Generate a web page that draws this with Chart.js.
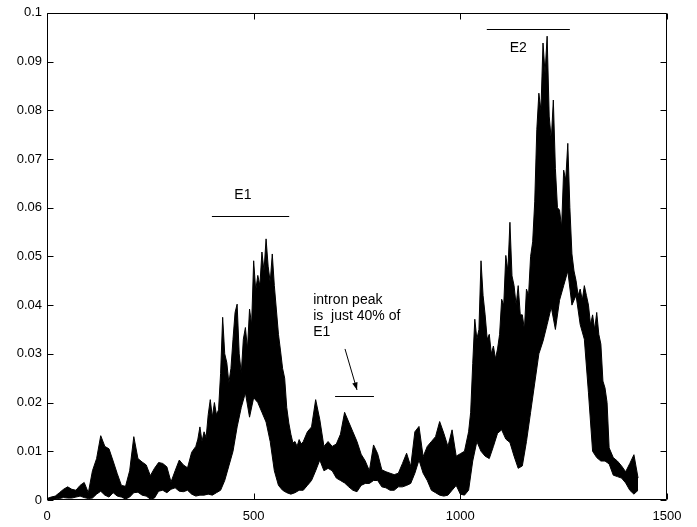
<!DOCTYPE html>
<html>
<head>
<meta charset="utf-8">
<script src="https://cdn.jsdelivr.net/npm/chart.js@4/dist/chart.umd.min.js"></script>
<style>
html,body{margin:0;padding:0;background:#fff;}
#wrap{width:697px;height:527px;}
</style>
</head>
<body>
<div id="wrap"><canvas id="c" width="697" height="527"></canvas></div>
<script>
// ---- data ----
// upper envelope of the dense signal
const upperPositions = [0,10,20,30,40,50,60,70,80,90,100,110,120,130,140,150,160,170,180,190,200,210,220,230,240,250,260,270,280,290,300,310,320,330,340,350,
360,365,370,375,380,385,390,395,400,405,410,415,420,425,430,435,440,445,450,455,460,465,470,475,480,485,490,495,500,505,510,515,520,525,530,535,540,545,550,555,560,565,570,575,580,585,590,595,600,605,610,615,620,
630,640,650,660,670,680,690,700,710,720,730,740,750,760,770,780,790,800,810,820,830,840,850,860,870,880,890,900,910,920,930,940,950,960,970,980,990,1000,1010,
1020,1025,1030,1035,1040,1045,1050,1055,1060,1065,1070,1075,1080,1085,1090,1095,1100,1105,1110,1115,1120,1125,1130,1135,1140,1145,1150,1155,1160,1165,1170,1175,1180,1185,1190,1195,1200,1205,1210,1215,1220,1225,1230,1235,1240,1245,1250,1255,1260,1265,1270,1275,1280,1285,1290,1295,1300,1305,1310,1315,1320,1325,1330,1335,1340,1345,1350,1355,1360,
1370,1380,1390,1400,1410,1420,1430];

const upperEnvelope = [0.0003,0.0006,0.0008,0.0015,0.0022,0.0027,0.0022,0.0020,0.0030,0.0036,0.0015,0.0060,0.0085,0.0132,0.0110,0.0105,0.0080,0.0054,0.0030,0.0028,0.0060,0.0130,0.0085,0.0078,0.0072,0.0050,0.0065,0.0077,0.0075,0.0068,0.0037,0.0060,0.0082,0.0072,0.0066,0.0098,
0.0110,0.0125,0.0150,0.0120,0.0140,0.0128,0.0175,0.0206,0.0170,0.0200,0.0175,0.0185,0.0260,0.0375,0.0300,0.0282,0.0240,0.0270,0.0330,0.0385,0.0402,0.0300,0.0260,0.0330,0.0354,0.0310,0.0392,0.0360,0.0491,0.0430,0.0461,0.0440,0.0509,0.0470,0.0536,0.0480,0.0447,0.0505,0.0440,0.0390,0.0340,0.0306,0.0270,0.0250,0.0190,0.0158,0.0135,0.0117,0.0120,0.0110,0.0124,0.0115,0.0120,
0.0140,0.0150,0.0206,0.0165,0.0110,0.0120,0.0110,0.0115,0.0135,0.0180,0.0160,0.0140,0.0120,0.0094,0.0080,0.0060,0.0113,0.0095,0.0062,0.0058,0.0055,0.0052,0.0055,0.0075,0.0096,0.0069,0.0140,0.0151,0.0089,0.0110,0.0120,0.0130,0.0161,0.0137,0.0110,0.0144,0.0090,0.0095,0.0100,
0.0140,0.0180,0.0280,0.0371,0.0330,0.0350,0.0491,0.0420,0.0380,0.0330,0.0340,0.0300,0.0316,0.0290,0.0310,0.0340,0.0412,0.0400,0.0502,0.0470,0.0570,0.0460,0.0440,0.0400,0.0440,0.0380,0.0380,0.0350,0.0433,0.0420,0.0500,0.0530,0.0612,0.0760,0.0835,0.0800,0.0938,0.0876,0.0952,0.0788,0.0739,0.0821,0.0680,0.0600,0.0595,0.0560,0.0677,0.0657,0.0732,0.0600,0.0505,0.0470,0.0450,0.0420,0.0433,0.0410,0.0440,0.0420,0.0400,0.0360,0.0380,0.0350,0.0385,0.0340,0.0320,0.0244,0.0230,0.0200,0.0107,
0.0087,0.0080,0.0070,0.0058,0.0075,0.0093,0.0045];

// lower envelope of the dense signal
const lowerPositions = [0,10,20,30,40,50,60,70,80,90,100,110,120,130,140,150,160,170,180,190,200,210,220,230,240,250,260,270,280,290,300,310,320,330,340,350,360,370,380,390,400,410,420,430,440,450,460,470,480,490,500,510,520,530,540,550,560,570,580,590,600,610,620,630,640,650,660,670,680,690,700,710,720,730,740,750,760,770,780,790,800,810,820,830,840,850,860,870,880,890,900,910,920,930,940,950,960,970,980,990,1000,1010,1020,1030,1040,1050,1060,1070,1080,1090,1100,1110,1120,1130,1140,1150,1160,1170,1180,1190,1200,1210,1220,1230,1240,1250,1260,1270,1280,1290,1300,1310,1320,1330,1340,1350,1360,1370,1380,1390,1400,1410,1420,1430];

const lowerEnvelope = [0,0,0.0002,0.0003,0.0005,0.0004,0.0004,0.0006,0.0008,0.0005,0.0003,0.0004,0.0012,0.0018,0.0010,0.0006,0.0015,0.0008,0.0006,0.0002,0.0006,0.0015,0.0016,0.0010,0.0008,0.0002,0.0004,0.0018,0.0020,0.0015,0.0022,0.0025,0.0018,0.0017,0.0020,0.0012,0.0008,0.0010,0.0010,0.0012,0.0010,0.0015,0.0020,0.0040,0.0070,0.0100,0.0150,0.0190,0.0220,0.0170,0.0210,0.0200,0.0180,0.0160,0.0120,0.0060,0.0030,0.0020,0.0015,0.0012,0.0015,0.0020,0.0020,0.0030,0.0040,0.0060,0.0082,0.0060,0.0065,0.0060,0.0045,0.0040,0.0035,0.0027,0.0020,0.0017,0.0030,0.0034,0.0034,0.0040,0.0040,0.0027,0.0025,0.0020,0.0020,0.0027,0.0027,0.0030,0.0034,0.0055,0.0082,0.0055,0.0040,0.0020,0.0015,0.0010,0.0008,0.0010,0.0020,0.0030,0.0012,0.0010,0.0020,0.0080,0.0120,0.0100,0.0090,0.0085,0.0110,0.0137,0.0144,0.0125,0.0118,0.0090,0.0065,0.0070,0.0120,0.0180,0.0240,0.0300,0.0326,0.0360,0.0396,0.0350,0.0410,0.0440,0.0470,0.0400,0.0420,0.0360,0.0330,0.0220,0.0100,0.0087,0.0080,0.0080,0.0074,0.0051,0.0048,0.0045,0.0035,0.0020,0.0012,0.0020];

const xTickValues = [0,500,1000,1500];
const xTickLabels = ['0','500','1000','1500'];
const yTickValues = [0,0.01,0.02,0.03,0.04,0.05,0.06,0.07,0.08,0.09,0.1];
const yTickLabels = ['0','0.01','0.02','0.03','0.04','0.05','0.06','0.07','0.08','0.09','0.1'];

// annotations (data coordinates)
const e1Label = {text:'E1', x:474, y:0.0625};
const e1Bar = {x1:399, x2:586, y:0.0582};
const e2Label = {text:'E2', x:1140, y:0.0928};
const e2Bar = {x1:1064, x2:1265, y:0.0967};
const intronLines = ['intron peak','is  just 40% of','E1'];
const intronText = {x:644, y:[0.0410,0.0377,0.0344]};
const intronArrow = {x1:721, y1:0.0310, x2:750, y2:0.0226};
const intronBar = {x1:697, x2:791, y:0.0213};

const FONT = "'Liberation Sans', Arial, Helvetica, sans-serif";

const toPts = (xs, ys) => xs.map((x,i)=>({x:x, y:ys[i]}));

const framePlugin = {
  id:'frame',
  afterDraw(chart){
    const {ctx, chartArea:a, scales:{x, y}} = chart;
    ctx.save();
    ctx.strokeStyle = '#000';
    ctx.lineWidth = 1;
    const L = Math.round(a.left)+0.5, R = Math.round(a.right)-0.5;
    const T = Math.round(a.top)+0.5, B = Math.round(a.bottom)-0.5;
    ctx.beginPath();
    ctx.rect(L, T, R-L, B-T);
    const tl = 6;
    xTickValues.forEach(v=>{
      const px = Math.round(x.getPixelForValue(v))+0.5;
      ctx.moveTo(px, B); ctx.lineTo(px, B-tl);
      ctx.moveTo(px, T); ctx.lineTo(px, T+tl);
    });
    yTickValues.forEach(v=>{
      const py = Math.round(y.getPixelForValue(v))+0.5;
      ctx.moveTo(L, py); ctx.lineTo(L+tl, py);
      ctx.moveTo(R, py); ctx.lineTo(R-tl, py);
    });
    ctx.stroke();

    const X = v=>x.getPixelForValue(v), Y = v=>y.getPixelForValue(v);
    ctx.fillStyle = '#000';
    ctx.font = '14px ' + FONT;
    ctx.textBaseline = 'middle';
    ctx.textAlign = 'center';
    ctx.fillText(e1Label.text, X(e1Label.x), Y(e1Label.y));
    ctx.fillText(e2Label.text, X(e2Label.x), Y(e2Label.y));
    ctx.textAlign = 'left';
    intronLines.forEach((t,i)=>ctx.fillText(t, X(intronText.x), Y(intronText.y[i])));

    ctx.beginPath();
    [e1Bar, e2Bar, intronBar].forEach(b=>{
      const py = Math.round(Y(b.y))+0.5;
      ctx.moveTo(X(b.x1), py); ctx.lineTo(X(b.x2), py);
    });
    const ax1 = X(intronArrow.x1), ay1 = Y(intronArrow.y1);
    const ax2 = X(intronArrow.x2), ay2 = Y(intronArrow.y2);
    ctx.moveTo(ax1, ay1); ctx.lineTo(ax2, ay2);
    ctx.stroke();
    const ang = Math.atan2(ay2-ay1, ax2-ax1);
    const hl = 8, hw = 0.35;
    ctx.beginPath();
    ctx.moveTo(ax2, ay2);
    ctx.lineTo(ax2 - hl*Math.cos(ang-hw), ay2 - hl*Math.sin(ang-hw));
    ctx.lineTo(ax2 - hl*Math.cos(ang+hw), ay2 - hl*Math.sin(ang+hw));
    ctx.closePath();
    ctx.fill();
    ctx.restore();
  }
};

new Chart(document.getElementById('c'), {
  type:'line',
  data:{
    datasets:[
      {data: toPts(upperPositions, upperEnvelope), borderColor:'#000', backgroundColor:'#000', borderWidth:1, pointRadius:0, tension:0, fill:'+1'},
      {data: toPts(lowerPositions, lowerEnvelope), borderColor:'#000', backgroundColor:'#000', borderWidth:1, pointRadius:0, tension:0, fill:false}
    ]
  },
  options:{
    responsive:false,
    animation:false,
    devicePixelRatio:1,
    layout:{padding:{top:12, right:30, left:0, bottom:0}},
    plugins:{legend:{display:false}, tooltip:{enabled:false}},
    scales:{
      x:{
        type:'linear', min:0, max:1500,
        grid:{display:false, drawTicks:false},
        border:{display:false},
        afterBuildTicks(s){ s.ticks = xTickValues.map(v=>({value:v})); },
        afterFit(s){ s.height = 27; },
        ticks:{
          color:'#000', font:{family:FONT, size:13}, padding:9, maxRotation:0,
          callback:(v,i)=>xTickLabels[i]
        }
      },
      y:{
        type:'linear', min:0, max:0.1,
        grid:{display:false, drawTicks:false},
        border:{display:false},
        afterBuildTicks(s){ s.ticks = yTickValues.map(v=>({value:v})); },
        afterFit(s){ s.width = 47; },
        ticks:{
          color:'#000', font:{family:FONT, size:13}, padding:5,
          callback:(v,i)=>yTickLabels[i]
        }
      }
    }
  },
  plugins:[framePlugin]
});
</script>
</body>
</html>
